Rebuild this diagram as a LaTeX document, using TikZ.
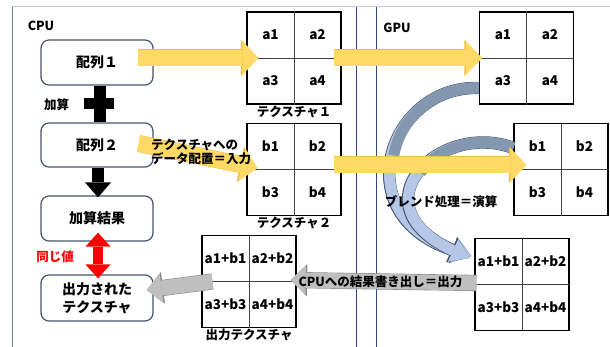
\documentclass[tikz,border=0pt]{standalone}
\usepackage{fontspec}
\setmainfont{Noto Sans CJK JP}
\usetikzlibrary{arrows.meta, calc, positioning}

\definecolor{frameline}{HTML}{C9CED6}
\definecolor{cpuedge}{HTML}{7A8BA6}
\definecolor{divider}{HTML}{2F4B7C}
\definecolor{boxedge}{HTML}{44546A}
\definecolor{yellowfill}{HTML}{FFD966}
\definecolor{yellowedge}{HTML}{EBC046}
\definecolor{grayfill}{HTML}{BFBFBF}
\definecolor{grayedge}{HTML}{8C8C8C}
\definecolor{bluedark}{HTML}{8497B0}
\definecolor{bluelight}{HTML}{B4C7E7}
\definecolor{blueedge}{HTML}{44546A}

\tikzset{
  procbox/.style={draw=boxedge, line width=1.2pt, rounded corners=8pt, fill=white,
    minimum width=112pt, align=center, font=\fontsize{14}{18}\selectfont\bfseries},
  gridbox/.style={draw=black, line width=1.2pt, fill=white, minimum width=94pt,
    minimum height=92pt, inner sep=0pt},
  gridline/.style={draw=black!75, line width=0.8pt},
  celltext/.style={font=\fontsize{13.5}{15}\selectfont\bfseries, inner sep=0pt},
  gridlabel/.style={font=\fontsize{12.5}{14}\selectfont\bfseries, inner sep=1pt},
  note/.style={font=\fontsize{12.5}{14}\selectfont\bfseries, inner sep=0pt},
  yarrow/.style={draw=yellowfill, line width=16pt,
    -{Triangle[width=34pt,length=16pt,line width=0pt]},
    preaction={draw=yellowedge, line width=17pt,
      -{Triangle[width=36pt,length=17.5pt,line width=0pt]}}},
  garrow/.style={draw=grayfill, line width=15pt,
    -{Triangle[width=30pt,length=15pt,line width=0pt]},
    preaction={draw=grayedge, line width=16.2pt,
      -{Triangle[width=32pt,length=16.5pt,line width=0pt]}}},
  bluearrow/.style={draw=bluelight, line width=11pt,
    -{Triangle[width=25pt,length=18pt,line width=0pt]},
    preaction={draw=blueedge, line width=12.4pt,
      -{Triangle[width=27.5pt,length=19.5pt,line width=0pt]}}},
  bluetop/.style={draw=bluedark, line width=11pt},
  blackarrow/.style={draw=black, line width=12pt,
    -{Triangle[width=26pt,length=15pt,line width=0pt]}},
  redarrow/.style={draw=red, line width=10pt,
    {Triangle[width=25pt,length=14pt,line width=0pt]}-{Triangle[width=25pt,length=14pt,line width=0pt]}}
}

% a 2x2 texture: name, centre x, centre y, four cells
\newcommand{\texgrid}[7]{%
  \node[gridbox] (#1) at (#2,#3) {};
  \draw[gridline] (#1.north) -- (#1.south) (#1.west) -- (#1.east);
  \node[celltext] (#1-a) at ($(#1.center)+(-23.5,-23)$) {#4};
  \node[celltext] (#1-b) at ($(#1.center)+(23.5,-23)$) {#5};
  \node[celltext] (#1-c) at ($(#1.center)+(-23.5,23)$) {#6};
  \node[celltext] (#1-d) at ($(#1.center)+(23.5,23)$) {#7};
}

% curved blend arrow from #1 to #4 with controls #2, #3; upper half darker
\newcommand{\blendarrow}[5]{%
  \draw[bluearrow] (#1) .. controls (#2) and (#3) .. (#4);
  \coordinate (#5-01) at ($(#1)!0.5!(#2)$);
  \coordinate (#5-12) at ($(#2)!0.5!(#3)$);
  \coordinate (#5-23) at ($(#3)!0.5!(#4)$);
  \coordinate (#5-012) at ($(#5-01)!0.5!(#5-12)$);
  \coordinate (#5-123) at ($(#5-12)!0.5!(#5-23)$);
  \coordinate (#5-mid) at ($(#5-012)!0.5!(#5-123)$);
  \draw[bluetop] (#1) .. controls (#5-01) and (#5-012) .. (#5-mid);
}

\begin{document}
\begin{tikzpicture}[x=1pt, y=-1pt]
  \fill[white] (0,0) rectangle (610,347);
  \useasboundingbox (0,0) rectangle (610,347);
  % Frame and the CPU/GPU border
  \draw[frameline, line width=1pt] (12,7) -- (610,7);
  \draw[cpuedge, line width=1pt] (12,7) -- (12,347);
  \draw[divider, line width=1pt] (356,7) -- (356,347);
  \draw[divider, line width=1pt] (376,7) -- (376,347);
  \node[note] (cpu) at (41,26) {CPU};
  \node[note] (gpu) at (397,28) {GPU};

  % CPU side
  \node[procbox, minimum height=45pt] (array1) at (97,62.5) {配列１};
  \node[procbox, minimum height=44pt] (array2) at (97,145) {配列２};
  \node[procbox, minimum height=45pt] (sumbox) at (97,218.5) {加算結果};
  \node[procbox, minimum height=46pt] (outbox) at (97,298) {出力された\\テクスチャ};
  % Plus sign between the two arrays
  \draw[line width=12pt] ([xshift=3pt]array1.south) -- ([xshift=3pt]array2.north);
  \fill ($(array1.south)!0.5!(array2.north)+(-13,-5.5)$) rectangle +(30,11);
  \node[note] (addlabel) at (56.5,105) {加算};
  \draw[blackarrow] ([xshift=1pt]array2.south) -- ([xshift=1pt, yshift=-2pt]sumbox.north);
  \draw[redarrow] ([xshift=1pt, yshift=9pt]sumbox.south) -- ([xshift=1pt, yshift=-4pt]outbox.north);
  \node[note, text=red] (samelabel) at (55,257) {同じ値};

  % Textures
  \texgrid{tex1}{294}{58}{a1}{a2}{a3}{a4}
  \texgrid{tex2}{294}{169.5}{b1}{b2}{b3}{b4}
  \texgrid{cpuout}{249}{281.5}{a1+b1}{a2+b2}{a3+b3}{a4+b4}
  \texgrid{gpua}{526.5}{58}{a1}{a2}{a3}{a4}
  \texgrid{gpub}{561}{169.5}{b1}{b2}{b3}{b4}
  \texgrid{gpuout}{522}{284.5}{a1+b1}{a2+b2}{a3+b3}{a4+b4}
  \node[gridlabel, below=0pt of tex1] (tex1label) {テクスチャ１};
  \node[gridlabel, below=0pt of tex2] (tex2label) {テクスチャ２};
  \node[gridlabel, below=0pt of cpuout] (cpuoutlabel) {出力テクスチャ};

  % Blending on the GPU
  \coordinate (blendA) at ($(gpua.west)+(0,30)$);
  \coordinate (blendB) at ($(gpub.west)+(0,-21.5)$);
  \coordinate (blendAend) at ($(gpuout.west)+(-3,-28.5)$);
  \coordinate (blendBend) at ($(gpuout.west)+(-5,-26.5)$);
  \blendarrow{blendA}{$(blendA)+(-90,-3)$}{$(blendAend)+(-127,-41)$}{blendAend}{ca}
  \blendarrow{blendB}{$(blendB)+(-74,-28)$}{$(blendBend)+(-115,-53)$}{blendBend}{cb}
  \node[note] (blendnote) at (441,202) {ブレンド処理＝演算};

  % Upload to the GPU
  \draw[yarrow] ($(array1.east |- tex1.west)+(-16,0)$) -- ($(tex1.west)+(12,0)$);
  \draw[yarrow] ($(tex1.east)+(-8,0)$) -- ($(gpua.west)+(3,0)$);
  \draw[yarrow] ($(array2.east)+(-15,-1.5)$) -- ($(tex2.west)+(11,-1.5)$);
  \draw[yarrow] ($(tex2.east)+(-8,-4.5)$) -- ($(gpub.west)+(13,-4.5)$);
  \node[note, align=left, anchor=west] (inputnote) at (151,152) {テクスチャへの\\データ配置＝入力};

  % Read back to the CPU
  \draw[garrow] ($(gpuout.west)+(2,-1.5)$) -- ($(cpuout.east)+(-6,-1.5)$)
    node[note, midway, xshift=-3pt] (outnote) {CPUへの結果書き出し＝出力};
  \draw[garrow] ($(cpuout.west)+(11,0)$) -- ($(outbox.east)+(-7,-8)$);
\end{tikzpicture}
\end{document}
